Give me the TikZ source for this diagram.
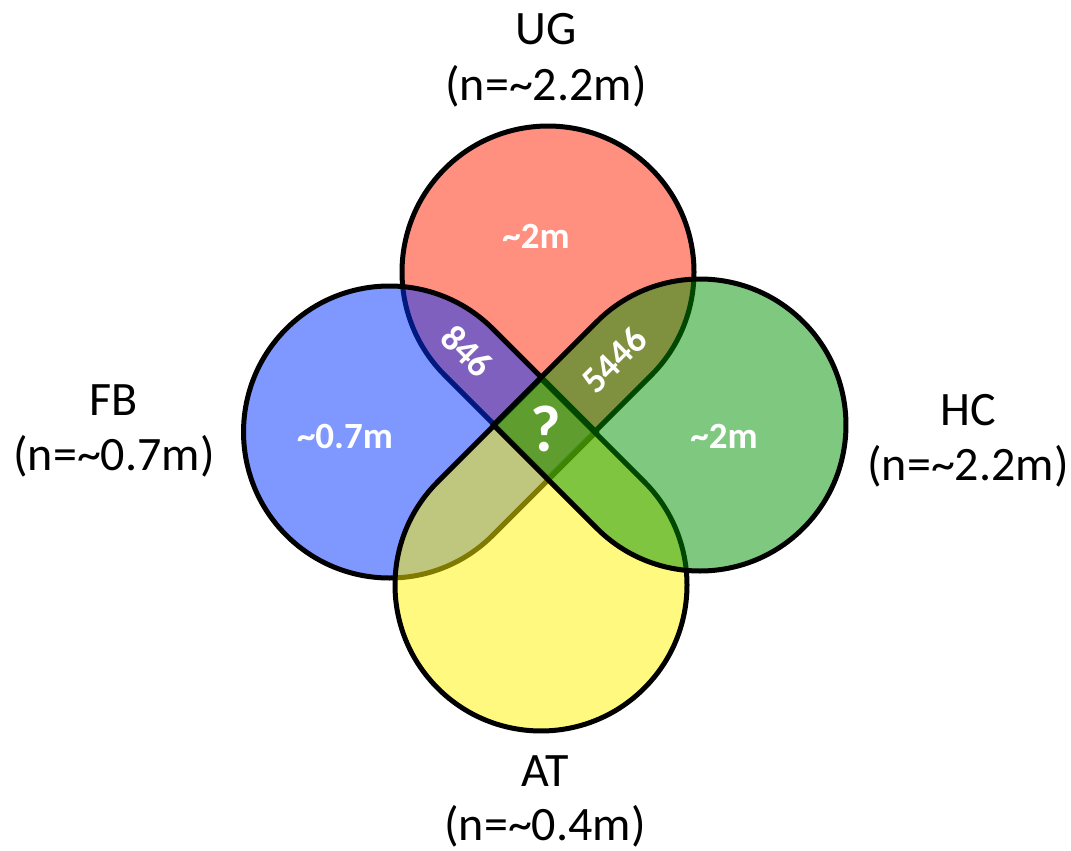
\documentclass[tikz,border=0pt]{standalone}
\usepackage{fontspec}
\setmainfont{Carlito}
\definecolor{cRed}{RGB}{255,32,0}
\definecolor{cBlue}{RGB}{0,50,255}
\definecolor{cGreen}{RGB}{0,145,0}
\definecolor{cYellow}{RGB}{255,245,0}
\tikzset{
  drop/.style={draw=black, line width=5pt, fill opacity=0.5, line join=miter},
  setlabel/.style={anchor=base, inner sep=0pt, font=\fontsize{48}{57}\selectfont},
  countlabel/.style={inner sep=0pt, text=white, font=\bfseries\fontsize{37}{40}\selectfont},
}
\begin{document}
\begin{tikzpicture}[x=1pt,y=-1pt]
\useasboundingbox (0,0) rectangle (1071,851);
\def\R{146}
\def\D{206.5}
% UG (red), corner down
\path[drop, fill=cRed, shift={(548,272)}] (90:\D) -- ++(225:\R) arc[start angle=135, end angle=405, radius=\R] -- cycle;
% FB (blue), corner right
\path[drop, fill=cBlue, shift={(389.5,432)}] (0:\D) -- ++(135:\R) arc[start angle=45, end angle=315, radius=\R] -- cycle;
% AT (yellow), corner up
\path[drop, fill=cYellow, shift={(541,585)}] (270:\D) -- ++(405:\R) arc[start angle=315, end angle=585, radius=\R] -- cycle;
% HC (green), corner left
\path[drop, fill=cGreen, shift={(700,425)}] (180:\D) -- ++(315:\R) arc[start angle=225, end angle=495, radius=\R] -- cycle;
% set labels
\node[setlabel] (ug1) at (546,45) {UG};
\node[setlabel] (ug2) at (546,100) {(n=\char`~2.2m)};
\node[setlabel] (fb1) at (114,415) {FB};
\node[setlabel] (fb2) at (114,470) {(n=\char`~0.7m)};
\node[setlabel] (hc1) at (968,425) {HC};
\node[setlabel] (hc2) at (968,480) {(n=\char`~2.2m)};
\node[setlabel] (at1) at (545,786) {AT};
\node[setlabel] (at2) at (545,840) {(n=\char`~0.4m)};
% counts
\node[countlabel] (cug) at (536,236) {\char`~2m};
\node[countlabel] (cfb) at (345,436) {\char`~0.7m};
\node[countlabel] (chc) at (724,436) {\char`~2m};
\node[countlabel, rotate=-45] (cugfb) at (467,351) {846};
\node[countlabel, rotate=45] (cughc) at (614,360) {5446};
\node[countlabel, font=\bfseries\fontsize{66}{70}\selectfont] (call) at (546,429) {?};
\end{tikzpicture}
\end{document}
